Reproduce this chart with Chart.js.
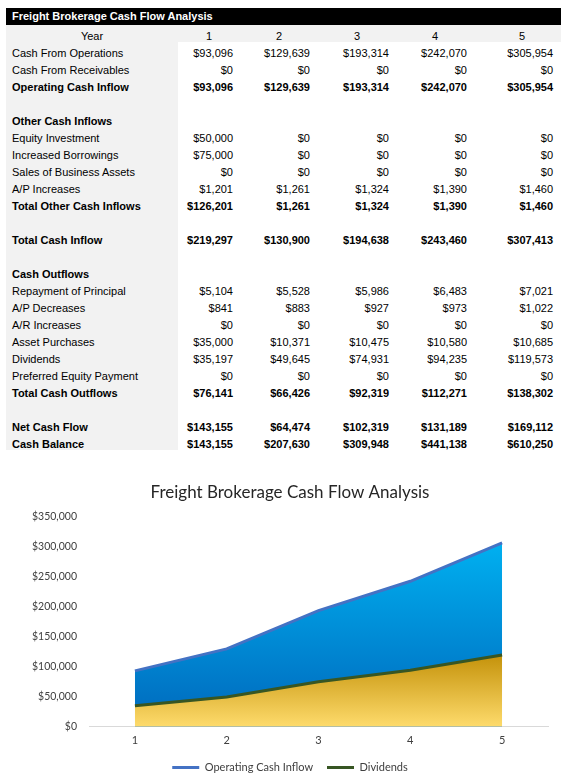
<!DOCTYPE html>
<html>
<head>
<meta charset="utf-8">
<script src="https://cdn.jsdelivr.net/npm/chart.js@4.4.1/dist/chart.umd.min.js"></script>
<style>
  body { margin: 0; background: #fff; width: 570px; height: 783px; overflow: hidden; position: relative; }
  #tbl { position: absolute; left: 6px; top: 8px; border-collapse: collapse; table-layout: fixed; width: 555px;
    font-family: "Liberation Sans", Arial, sans-serif; font-size: 11px; color: #000; }
  #tbl td { height: 17px; padding: 0; line-height: 11px; vertical-align: bottom; white-space: nowrap; overflow: hidden; }
  #tbl td.lbl { background: #f2f2f2; padding-left: 6px; }
  #tbl td.num { text-align: right; padding-right: 7px; }
  #tbl td.num.wide { padding-right: 8px; }
  #tbl tr.head td { background: #000; color: #fff; font-weight: bold; padding-left: 6px; vertical-align: middle; line-height: 17px; }
  #tbl tr.year td { background: #f2f2f2; text-align: center; }
  #tbl tr.bold td { font-weight: bold; }
  #chartBox { position: absolute; left: 0; top: 474px; width: 570px; height: 309px; }
</style>
</head>
<body>
<table id="tbl">
  <colgroup>
    <col style="width:172px"><col style="width:62px"><col style="width:78px"><col style="width:78px"><col style="width:78px"><col style="width:87px">
  </colgroup>
  <tbody id="tbody"></tbody>
</table>
<div id="chartBox"><canvas id="chart"></canvas></div>

<script>
// chart data
const years = ['1', '2', '3', '4', '5'];
const operatingCashInflow = [93096, 129639, 193314, 242070, 305954];
const dividends = [35197, 49645, 74931, 94235, 119573];
const yTicksMax = 350000;
const yTickStep = 50000;

// table rows
const cashFromOperations = [93096, 129639, 193314, 242070, 305954];
const cashFromReceivables = [0, 0, 0, 0, 0];
const equityInvestment = [50000, 0, 0, 0, 0];
const increasedBorrowings = [75000, 0, 0, 0, 0];
const salesOfBusinessAssets = [0, 0, 0, 0, 0];
const apIncreases = [1201, 1261, 1324, 1390, 1460];
const totalOtherCashInflows = [126201, 1261, 1324, 1390, 1460];
const totalCashInflow = [219297, 130900, 194638, 243460, 307413];
const repaymentOfPrincipal = [5104, 5528, 5986, 6483, 7021];
const apDecreases = [841, 883, 927, 973, 1022];
const arIncreases = [0, 0, 0, 0, 0];
const assetPurchases = [35000, 10371, 10475, 10580, 10685];
const preferredEquityPayment = [0, 0, 0, 0, 0];
const totalCashOutflows = [76141, 66426, 92319, 112271, 138302];
const netCashFlow = [143155, 64474, 102319, 131189, 169112];
const cashBalance = [143155, 207630, 309948, 441138, 610250];

// [label, values or null, bold]
const rows = [
  ['Cash From Operations', cashFromOperations, false],
  ['Cash From Receivables', cashFromReceivables, false],
  ['Operating Cash Inflow', operatingCashInflow, true],
  ['', null, false],
  ['Other Cash Inflows', null, true],
  ['Equity Investment', equityInvestment, false],
  ['Increased Borrowings', increasedBorrowings, false],
  ['Sales of Business Assets', salesOfBusinessAssets, false],
  ['A/P Increases', apIncreases, false],
  ['Total Other Cash Inflows', totalOtherCashInflows, true],
  ['', null, false],
  ['Total Cash Inflow', totalCashInflow, true],
  ['', null, false],
  ['Cash Outflows', null, true],
  ['Repayment of Principal', repaymentOfPrincipal, false],
  ['A/P Decreases', apDecreases, false],
  ['A/R Increases', arIncreases, false],
  ['Asset Purchases', assetPurchases, false],
  ['Dividends', dividends, false],
  ['Preferred Equity Payment', preferredEquityPayment, false],
  ['Total Cash Outflows', totalCashOutflows, true],
  ['', null, false],
  ['Net Cash Flow', netCashFlow, true],
  ['Cash Balance', cashBalance, true]
];

const money = v => '$' + v.toLocaleString('en-US');

// build the table
const tbody = document.getElementById('tbody');
let html = '<tr class="head"><td colspan="6">Freight Brokerage Cash Flow Analysis</td></tr>';
html += '<tr class="year"><td>Year</td>' +
  years.map((y, i) => '<td' + (i === 4 ? ' style="padding-left:9px"' : '') + '>' + y + '</td>').join('') + '</tr>';
rows.forEach(([label, vals, bold]) => {
  html += '<tr' + (bold ? ' class="bold"' : '') + '><td class="lbl">' + label + '</td>';
  for (let i = 0; i < 5; i++) {
    const cls = 'num' + (i === 1 || i === 4 ? ' wide' : '');
    html += '<td class="' + cls + '">' + (vals ? money(vals[i]) : '') + '</td>';
  }
  html += '</tr>';
});
tbody.innerHTML = html;

// vertical gradient from the series' max down to the zero line
const areaGradient = (data, topColor, bottomColor, fallback) => (context) => {
  const chart = context.chart;
  const { chartArea, scales } = chart;
  if (!chartArea || !scales.y) return fallback;
  const yTop = scales.y.getPixelForValue(Math.max(...data));
  const yBottom = scales.y.getPixelForValue(0);
  const g = chart.ctx.createLinearGradient(0, yTop, 0, yBottom);
  g.addColorStop(0, topColor);
  g.addColorStop(1, bottomColor);
  return g;
};

new Chart(document.getElementById('chart'), {
  type: 'line',
  data: {
    labels: years,
    datasets: [{
      label: 'Operating Cash Inflow',
      data: operatingCashInflow,
      borderColor: '#4472c4',
      borderWidth: 3,
      backgroundColor: areaGradient(operatingCashInflow, '#00b0f0', '#0068bc', '#0090d8'),
      fill: 'origin',
      tension: 0,
      pointRadius: 0,
      order: 1
    }, {
      label: 'Dividends',
      data: dividends,
      borderColor: '#375623',
      borderWidth: 3,
      backgroundColor: areaGradient(dividends, '#c4920a', '#fedb6c', '#e8bb40'),
      fill: 'origin',
      tension: 0,
      pointRadius: 0,
      order: 0
    }]
  },
  options: {
    responsive: true,
    maintainAspectRatio: false,
    animation: false,
    layout: { padding: { left: 32, right: 22, top: 0, bottom: 0 } },
    plugins: {
      title: {
        display: true,
        text: 'Freight Brokerage Cash Flow Analysis',
        color: '#262626',
        font: { family: 'Lato', size: 17, weight: 'normal' },
        padding: { top: 8, bottom: 14 }
      },
      legend: {
        position: 'bottom',
        labels: {
          usePointStyle: true,
          pointStyle: 'line',
          pointStyleWidth: 27,
          color: '#404040',
          font: { family: 'Lato', size: 11 },
          padding: 14,
          sort: (a, b) => a.datasetIndex - b.datasetIndex
        }
      },
      tooltip: { enabled: false }
    },
    scales: {
      x: {
        offset: true,
        grid: { display: false, drawTicks: false },
        border: { color: '#d9d9d9', width: 1 },
        ticks: { color: '#404040', font: { family: 'Lato', size: 11 }, padding: 7 },
        afterFit: (scale) => { scale.height -= 6; }
      },
      y: {
        min: 0,
        max: yTicksMax,
        grid: { display: false, drawTicks: false },
        border: { display: false },
        ticks: {
          stepSize: yTickStep,
          color: '#404040',
          font: { family: 'Lato', size: 10.5 },
          padding: 12,
          callback: v => money(v)
        },
        afterFit: (scale) => { scale.width -= 12; }
      }
    }
  }
});
</script>
</body>
</html>
